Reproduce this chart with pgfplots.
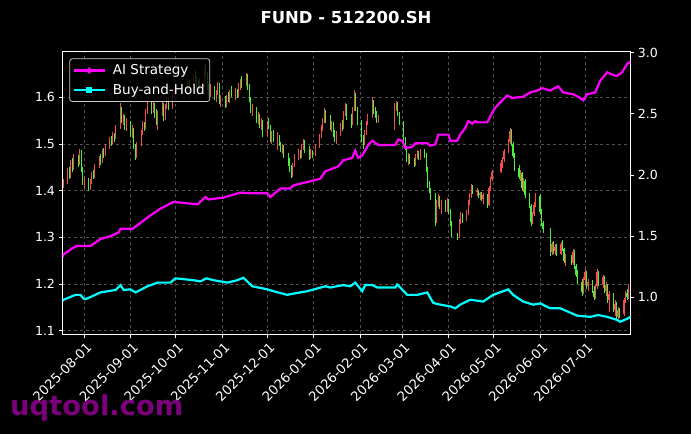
\documentclass[border=0pt]{standalone}
\usepackage{fontspec}
\setmainfont{DejaVu Sans}
\usepackage{pgfplots}
\usepackage{pgfplotstable}
\pgfplotsset{compat=1.18}

\definecolor{upred}{HTML}{F24E4E}
\definecolor{dngreen}{HTML}{4CF03C}
\definecolor{gridgray}{HTML}{505050}
\definecolor{wm}{HTML}{8A008A}
\definecolor{aimag}{HTML}{FF00FF}
\definecolor{bhcyan}{HTML}{00FFFF}

% daily candles: day (0 = 2025-08-01), open, high, low, close
\pgfplotstableread{
d o h l c
-14 1.412 1.425 1.405 1.420
-11 1.420 1.448 1.415 1.442
-10 1.442 1.450 1.425 1.430
-9 1.430 1.465 1.428 1.460
-8 1.460 1.470 1.440 1.448
-7 1.448 1.478 1.445 1.472
-4 1.472 1.476 1.450 1.458
-3 1.458 1.490 1.455 1.485
-2 1.485 1.487 1.440 1.445
-1 1.445 1.450 1.412 1.418
0 1.418 1.430 1.405 1.425
3 1.425 1.428 1.400 1.404
4 1.404 1.425 1.402 1.420
5 1.420 1.440 1.415 1.436
6 1.436 1.445 1.425 1.430
7 1.430 1.458 1.428 1.452
10 1.452 1.475 1.448 1.470
11 1.470 1.478 1.455 1.462
12 1.462 1.490 1.460 1.485
13 1.485 1.492 1.470 1.478
14 1.478 1.500 1.475 1.496
17 1.496 1.515 1.490 1.510
18 1.510 1.518 1.495 1.502
19 1.502 1.525 1.500 1.520
20 1.520 1.524 1.505 1.512
21 1.512 1.540 1.510 1.535
24 1.535 1.588 1.532 1.575
25 1.575 1.580 1.545 1.552
26 1.552 1.565 1.540 1.558
27 1.558 1.562 1.530 1.535
28 1.535 1.555 1.528 1.548
31 1.548 1.550 1.515 1.520
32 1.520 1.540 1.512 1.532
33 1.532 1.535 1.490 1.495
34 1.495 1.500 1.465 1.475
35 1.475 1.505 1.470 1.500
38 1.500 1.530 1.495 1.525
39 1.525 1.550 1.520 1.545
40 1.545 1.548 1.528 1.535
41 1.535 1.575 1.532 1.570
42 1.570 1.595 1.565 1.588
45 1.588 1.592 1.565 1.570
46 1.570 1.590 1.566 1.585
47 1.585 1.588 1.555 1.560
48 1.560 1.575 1.540 1.545
49 1.545 1.570 1.530 1.565
52 1.565 1.590 1.560 1.584
53 1.584 1.587 1.550 1.556
54 1.556 1.585 1.552 1.580
55 1.580 1.600 1.575 1.596
56 1.596 1.598 1.572 1.578
59 1.578 1.610 1.575 1.605
60 1.605 1.620 1.598 1.615
69 1.615 1.640 1.610 1.632
70 1.632 1.636 1.612 1.618
73 1.618 1.650 1.615 1.645
74 1.645 1.658 1.630 1.635
75 1.635 1.645 1.615 1.620
76 1.620 1.640 1.612 1.636
77 1.636 1.640 1.618 1.625
80 1.625 1.660 1.622 1.655
81 1.655 1.672 1.645 1.650
82 1.650 1.655 1.615 1.620
83 1.620 1.630 1.598 1.605
84 1.605 1.628 1.600 1.622
87 1.622 1.625 1.595 1.598
88 1.598 1.615 1.590 1.610
89 1.610 1.632 1.605 1.628
90 1.628 1.630 1.585 1.590
91 1.590 1.605 1.580 1.600
94 1.600 1.602 1.578 1.585
95 1.585 1.605 1.580 1.598
96 1.598 1.612 1.590 1.592
97 1.592 1.615 1.588 1.610
98 1.610 1.625 1.600 1.605
101 1.605 1.620 1.595 1.615
102 1.615 1.618 1.598 1.602
103 1.602 1.630 1.600 1.625
104 1.625 1.640 1.615 1.635
105 1.635 1.645 1.620 1.628
108 1.628 1.652 1.625 1.648
109 1.648 1.650 1.615 1.620
110 1.620 1.628 1.590 1.595
111 1.595 1.600 1.566 1.570
112 1.570 1.585 1.560 1.578
115 1.578 1.580 1.545 1.550
116 1.550 1.568 1.542 1.562
117 1.562 1.565 1.535 1.540
118 1.540 1.555 1.530 1.548
119 1.548 1.552 1.515 1.520
122 1.520 1.550 1.516 1.545
123 1.545 1.555 1.532 1.538
124 1.538 1.540 1.505 1.510
125 1.510 1.528 1.500 1.522
126 1.522 1.530 1.505 1.508
129 1.508 1.525 1.488 1.518
130 1.518 1.520 1.495 1.500
131 1.500 1.505 1.482 1.488
132 1.488 1.500 1.478 1.494
133 1.494 1.498 1.470 1.475
136 1.475 1.480 1.452 1.458
137 1.458 1.470 1.440 1.448
138 1.448 1.455 1.427 1.435
139 1.435 1.460 1.430 1.455
140 1.455 1.478 1.450 1.472
143 1.472 1.490 1.465 1.485
144 1.485 1.488 1.468 1.475
145 1.475 1.500 1.470 1.495
146 1.495 1.510 1.488 1.505
147 1.505 1.508 1.480 1.485
150 1.485 1.495 1.465 1.472
151 1.472 1.490 1.468 1.485
152 1.485 1.488 1.470 1.478
154 1.478 1.500 1.475 1.496
157 1.496 1.522 1.492 1.518
158 1.518 1.540 1.512 1.535
159 1.535 1.555 1.528 1.550
160 1.550 1.577 1.545 1.570
161 1.570 1.572 1.545 1.550
164 1.550 1.562 1.530 1.535
165 1.535 1.550 1.525 1.545
166 1.545 1.548 1.515 1.520
167 1.520 1.530 1.505 1.512
168 1.512 1.528 1.500 1.522
171 1.522 1.545 1.518 1.540
172 1.540 1.552 1.528 1.535
173 1.535 1.570 1.532 1.565
174 1.565 1.587 1.560 1.580
175 1.580 1.585 1.552 1.558
178 1.558 1.565 1.535 1.545
179 1.545 1.580 1.540 1.575
180 1.575 1.615 1.570 1.605
181 1.605 1.610 1.570 1.575
182 1.575 1.580 1.540 1.548
185 1.548 1.552 1.505 1.510
186 1.510 1.520 1.490 1.502
187 1.502 1.530 1.498 1.525
188 1.525 1.550 1.520 1.545
189 1.545 1.565 1.540 1.560
192 1.560 1.600 1.555 1.590
193 1.590 1.595 1.565 1.570
194 1.570 1.580 1.555 1.565
195 1.565 1.570 1.545 1.550
196 1.550 1.562 1.545 1.556
207 1.556 1.587 1.530 1.580
208 1.580 1.592 1.570 1.585
209 1.585 1.590 1.560 1.565
210 1.565 1.568 1.540 1.545
213 1.545 1.550 1.505 1.510
214 1.510 1.515 1.487 1.492
215 1.492 1.495 1.462 1.468
216 1.468 1.480 1.455 1.475
217 1.475 1.478 1.458 1.462
220 1.462 1.470 1.450 1.458
221 1.458 1.478 1.452 1.472
222 1.472 1.488 1.468 1.482
223 1.482 1.485 1.465 1.470
224 1.470 1.490 1.466 1.486
227 1.486 1.490 1.470 1.475
228 1.475 1.480 1.440 1.445
229 1.445 1.450 1.405 1.412
230 1.412 1.420 1.395 1.400
231 1.400 1.405 1.380 1.388
234 1.388 1.395 1.325 1.335
235 1.335 1.380 1.330 1.372
236 1.372 1.392 1.365 1.385
237 1.385 1.388 1.360 1.365
238 1.365 1.380 1.350 1.375
241 1.375 1.380 1.355 1.360
242 1.360 1.385 1.355 1.380
243 1.380 1.382 1.350 1.355
244 1.355 1.360 1.325 1.330
245 1.330 1.335 1.300 1.305
249 1.305 1.310 1.294 1.300
250 1.300 1.340 1.298 1.335
251 1.335 1.355 1.328 1.350
252 1.350 1.352 1.330 1.338
255 1.338 1.358 1.335 1.352
256 1.352 1.380 1.348 1.375
257 1.375 1.395 1.370 1.390
258 1.390 1.415 1.385 1.408
259 1.408 1.412 1.392 1.398
262 1.398 1.405 1.388 1.400
263 1.400 1.402 1.385 1.390
264 1.390 1.398 1.380 1.395
265 1.395 1.398 1.378 1.382
266 1.382 1.395 1.372 1.390
269 1.390 1.392 1.362 1.370
270 1.370 1.410 1.368 1.405
271 1.405 1.430 1.400 1.425
272 1.425 1.445 1.420 1.440
278 1.440 1.465 1.438 1.460
279 1.460 1.472 1.448 1.468
280 1.468 1.490 1.462 1.485
283 1.485 1.510 1.480 1.505
284 1.505 1.535 1.500 1.528
285 1.528 1.532 1.495 1.500
286 1.500 1.505 1.470 1.475
287 1.475 1.480 1.442 1.448
290 1.448 1.455 1.425 1.430
291 1.430 1.445 1.420 1.438
292 1.438 1.440 1.400 1.405
293 1.405 1.428 1.398 1.420
294 1.420 1.425 1.385 1.390
297 1.390 1.395 1.362 1.368
298 1.368 1.372 1.325 1.332
299 1.332 1.355 1.328 1.350
300 1.350 1.375 1.345 1.370
301 1.370 1.395 1.365 1.388
304 1.388 1.392 1.350 1.355
305 1.355 1.360 1.325 1.330
306 1.330 1.335 1.310 1.318
311 1.318 1.320 1.260 1.268
312 1.268 1.290 1.262 1.285
313 1.285 1.292 1.265 1.270
314 1.270 1.285 1.262 1.280
315 1.280 1.285 1.260 1.265
318 1.265 1.290 1.262 1.285
319 1.285 1.295 1.270 1.275
320 1.275 1.278 1.245 1.250
321 1.250 1.265 1.238 1.258
325 1.258 1.262 1.240 1.245
326 1.245 1.275 1.240 1.268
327 1.268 1.272 1.232 1.238
328 1.238 1.242 1.215 1.220
329 1.220 1.230 1.200 1.205
332 1.205 1.210 1.175 1.182
333 1.182 1.215 1.178 1.208
334 1.208 1.232 1.200 1.225
335 1.225 1.228 1.190 1.195
336 1.195 1.210 1.185 1.205
339 1.205 1.208 1.180 1.185
340 1.185 1.195 1.165 1.172
341 1.172 1.200 1.168 1.195
342 1.195 1.232 1.190 1.225
343 1.225 1.228 1.195 1.200
346 1.200 1.220 1.192 1.215
347 1.215 1.218 1.180 1.185
348 1.185 1.205 1.175 1.198
349 1.198 1.200 1.160 1.165
350 1.165 1.185 1.140 1.178
353 1.178 1.180 1.140 1.145
354 1.145 1.165 1.132 1.158
355 1.158 1.162 1.123 1.130
356 1.130 1.150 1.125 1.145
357 1.145 1.148 1.128 1.135
360 1.135 1.170 1.132 1.165
361 1.165 1.185 1.160 1.180
362 1.180 1.190 1.165 1.172
363 1.172 1.200 1.168 1.195
}\candles

% AI strategy equity curve
\pgfplotstableread{
d r
-14.5 1.33
-13.8 1.35
-8 1.40
-5 1.42
4.2 1.42
10.9 1.477
17.5 1.50
22.9 1.53
24.2 1.56
32.2 1.56
44.2 1.67
50.8 1.725
59.5 1.78
75.5 1.76
80.8 1.82
82.8 1.80
92.8 1.815
104.1 1.856
110.8 1.85
122.1 1.85
124.1 1.82
130.8 1.89
137.4 1.89
139.5 1.915
152.8 1.955
157.4 1.97
160.8 2.03
169.4 2.07
172.7 2.12
178.7 2.14
180.7 2.20
182.7 2.14
185.4 2.16
189.4 2.245
192.1 2.28
196.1 2.245
207.4 2.245
209.4 2.29
212.1 2.28
214.1 2.22
218.7 2.23
220.8 2.26
228.7 2.26
230.7 2.24
234.1 2.25
236.1 2.33
242.8 2.33
244.1 2.28
248.7 2.28
250.7 2.33
254.1 2.385
256.1 2.44
258.7 2.42
260.7 2.44
262.7 2.43
268.7 2.43
272.1 2.51
274.0 2.55
282.0 2.65
285.4 2.63
292.7 2.64
297.4 2.675
302.0 2.69
305.4 2.71
310.7 2.69
316.0 2.725
319.4 2.675
326.0 2.66
330.7 2.63
332.7 2.61
335.4 2.66
340.7 2.675
344.1 2.77
348.7 2.84
352.0 2.82
355.3 2.81
358.7 2.84
362.1 2.91
364.2 2.925
}\aistrat

% buy-and-hold curve
\pgfplotstableread{
d r
-14.5 0.97
-13.8 0.98
-5.8 1.02
-2.5 1.02
-0.5 0.99
1 0.985
10.9 1.04
20.9 1.06
24.2 1.10
26.2 1.06
30.8 1.065
34.2 1.04
42.2 1.09
48.8 1.12
57.5 1.12
60.8 1.155
72.8 1.14
77.5 1.13
81.5 1.155
86.1 1.14
95.5 1.12
102.1 1.14
106.1 1.16
112.1 1.09
122.1 1.065
126.1 1.05
135.4 1.02
139.5 1.03
148.8 1.05
160.8 1.09
164.1 1.08
172.7 1.10
177.4 1.09
180.7 1.12
185.4 1.05
187.4 1.10
192.1 1.10
195.4 1.08
207.4 1.08
208.7 1.105
215.4 1.02
222.1 1.02
228.7 1.04
232.7 0.955
235.4 0.945
244.1 0.925
247.4 0.91
250.7 0.94
257.4 0.98
266.0 0.965
272.7 1.02
282.7 1.065
286.0 1.02
292.7 0.965
299.4 0.94
304.0 0.95
310.7 0.91
317.4 0.91
328.7 0.85
337.4 0.84
342.7 0.855
348.7 0.84
355.3 0.815
357.4 0.80
362.1 0.825
364.2 0.84
}\buyhold

\begin{document}
\begin{tikzpicture}
\useasboundingbox (0,0) rectangle (691bp,434bp);
\fill[black] (0,0) rectangle (691bp,434bp);

\pgfplotsset{
  base/.style={
    at={(62.5bp,99.7bp)}, anchor=south west,
    scale only axis, width=567.9bp, height=282.6bp,
    xmin=-14.5, xmax=364.2,
    axis line style={white, line width=0.9bp},
    tick style={white, line width=0.8bp},
    major tick length=4bp, tick align=outside,
    /pgf/number format/assume math mode=true,
    ticklabel style={text=white, font=\fontsize{12.6}{14}\selectfont},
    label style={text=white, font=\fontsize{12.8}{14}\selectfont},
  },
  candle/.style n args={2}{draw=none, mark=none, forget plot,
    error bars/y dir=both, error bars/y explicit, error bars/error mark=none,
    error bars/error bar style={draw=#1, line width=#2}},
}

\begin{axis}[base,
  ymin=1.0923, ymax=1.6977,
  xtick={0,31,61,92,122,153,184,212,243,273,304,334},
  xticklabels={2025-08-01,2025-09-01,2025-10-01,2025-11-01,2025-12-01,2026-01-01,2026-02-01,2026-03-01,2026-04-01,2026-05-01,2026-06-01,2026-07-01},
  xticklabel style={rotate=45, anchor=north east, inner sep=1bp, font=\fontsize{13.2}{15}\selectfont, yshift=-2bp},
  xtick pos=bottom, ytick pos=left,
  ytick={1.1,1.2,1.3,1.4,1.5,1.6},
  yticklabel style={/pgf/number format/fixed, /pgf/number format/precision=1},
  xmajorgrids, ymajorgrids,
  major grid style={gridgray, dashed, line width=0.5bp},
  ylabel={Price},
  every axis y label/.style={at={(axis description cs:-0.0792,0.5)}, anchor=center, rotate=90},
]
% wicks
\addplot[candle={upred}{0.5bp}, restrict expr to domain={\thisrow{c}-\thisrow{o}}{0:10}]
  table[x=d, y expr={(\thisrow{h}+\thisrow{l})/2}, y error expr={(\thisrow{h}-\thisrow{l})/2}] {\candles};
\addplot[candle={dngreen}{0.5bp}, restrict expr to domain={\thisrow{c}-\thisrow{o}}{-10:-0.00001}]
  table[x=d, y expr={(\thisrow{h}+\thisrow{l})/2}, y error expr={(\thisrow{h}-\thisrow{l})/2}] {\candles};
% bodies
\addplot[candle={upred}{1.3bp}, restrict expr to domain={\thisrow{c}-\thisrow{o}}{0:10}]
  table[x=d, y expr={(\thisrow{o}+\thisrow{c})/2}, y error expr={(\thisrow{c}-\thisrow{o})/2}] {\candles};
\addplot[candle={dngreen}{1.3bp}, restrict expr to domain={\thisrow{c}-\thisrow{o}}{-10:-0.00001}]
  table[x=d, y expr={(\thisrow{o}+\thisrow{c})/2}, y error expr={(\thisrow{o}-\thisrow{c})/2}] {\candles};
\end{axis}

\begin{axis}[base,
  ymin=0.6975, ymax=3.008,
  axis x line=none, axis y line*=right,
  ytick={1.0,1.5,2.0,2.5,3.0},
  yticklabel style={/pgf/number format/fixed, /pgf/number format/fixed zerofill, /pgf/number format/precision=1},
  ylabel={Return},
  every axis y label/.style={at={(axis description cs:1.0759,0.493)}, anchor=center, rotate=90},
  legend image code/.code={\draw[mark repeat=2, mark phase=2, #1] plot coordinates {(0bp,0bp) (15.5bp,0bp) (31bp,0bp)};},
  legend style={at={(axis description cs:0,1)}, anchor=north west, xshift=6.8bp, yshift=-6.6bp,
    fill=black, fill opacity=0.8, text opacity=1, draw opacity=1,
    draw={rgb,255:red,200;green,200;blue,200}, line width=0.8bp, rounded corners=2.5bp,
    text=white, font=\fontsize{13.6}{15}\selectfont, inner xsep=3bp, inner ysep=4bp, row sep=3.5bp,
    /tikz/every odd column/.append style={column sep=5bp}},
  legend cell align=left,
]
\addplot[aimag, line width=2.2bp, mark=none, forget plot] table[x=d, y=r] {\aistrat};
\addplot[bhcyan, line width=2.2bp, mark=none, forget plot] table[x=d, y=r] {\buyhold};
\addlegendimage{aimag, line width=2.2bp, mark=*, mark size=1.8bp}
\addlegendentry{AI Strategy}
\addlegendimage{bhcyan, line width=2.2bp, mark=square*, mark size=1.8bp}
\addlegendentry{Buy-and-Hold}
\end{axis}

\node[text=white, font=\fontsize{16.5}{19}\selectfont\bfseries] at (346bp,416.5bp) {FUND - 512200.SH};
\node[anchor=base west, inner sep=0pt, text=wm, opacity=0.9, font=\fontsize{27.5}{30}\selectfont\bfseries] at (10bp,19bp) {uqtool.com};
\end{tikzpicture}
\end{document}
